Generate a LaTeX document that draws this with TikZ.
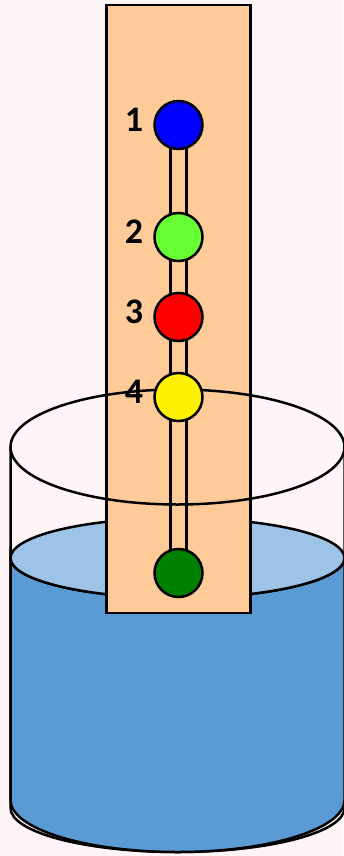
\documentclass[tikz,border=0pt]{standalone}
\usepackage{fontspec}
\setmainfont{Carlito}
\definecolor{bgpink}{HTML}{FFF4F6}
\definecolor{waterbody}{HTML}{5B9BD5}
\definecolor{watertop}{HTML}{9DC3E6}
\definecolor{stripfill}{HTML}{FFCC99}
\definecolor{bulbtwo}{HTML}{66FF33}
\definecolor{bulbfive}{HTML}{008000}
\tikzset{
  outline/.style={draw=black,line width=2.5pt},
  bulb/.style={circle,draw=black,line width=2.5pt,minimum size=48pt,inner sep=0pt,outer sep=0pt},
  numlabel/.style={font=\fontsize{36}{36}\selectfont\bfseries,inner sep=0pt,text=black}
}
\begin{document}
\begin{tikzpicture}[x=1pt,y=-1pt]
\useasboundingbox (0,0) rectangle (343,856);
\fill[bgpink] (0,0) rectangle (343,856);
% glass
\draw[outline] (10.5,447) -- (10.5,808)
  arc[start angle=180,end angle=0,x radius=167,y radius=44] -- (344.5,447);
% water
\draw[outline,fill=waterbody] (10.5,558) -- (10.5,800)
  arc[start angle=180,end angle=0,x radius=167,y radius=52] -- (344.5,558)
  arc[start angle=0,end angle=180,x radius=167,y radius=40] -- cycle;
\draw[outline,fill=watertop] (177.5,558) ellipse[x radius=167,y radius=40];
% strip
\node[outline,fill=stripfill,minimum width=144pt,minimum height=608pt,inner sep=0pt,outer sep=0pt,anchor=north west] (strip) at (106.3,5) {};
% bulbs (positions only, drawn after the tube)
\coordinate (c1) at (178.5,125);
\coordinate (c5) at (178.5,573);
\draw[outline] ([xshift=-8pt]c1) -- ([xshift=-8pt]c5);
\draw[outline] ([xshift=8pt]c1) -- ([xshift=8pt]c5);
% glass rim over strip
\draw[outline] (177.5,447) ellipse[x radius=167,y radius=57.5];
\node[bulb,fill=blue] (b1) at (c1) {};
\node[bulb,fill=bulbtwo] (b2) at (178.5,237) {};
\node[bulb,fill=red] (b3) at (178.5,317) {};
\node[bulb,fill=yellow] (b4) at (178.5,397) {};
\node[bulb,fill=bulbfive] (b5) at (c5) {};
\node[numlabel] (n1) at (134,119.5) {1};
\node[numlabel] (n2) at (134,231.5) {2};
\node[numlabel] (n3) at (134,311.5) {3};
\node[numlabel] (n4) at (134,391.5) {4};
\end{tikzpicture}
\end{document}
